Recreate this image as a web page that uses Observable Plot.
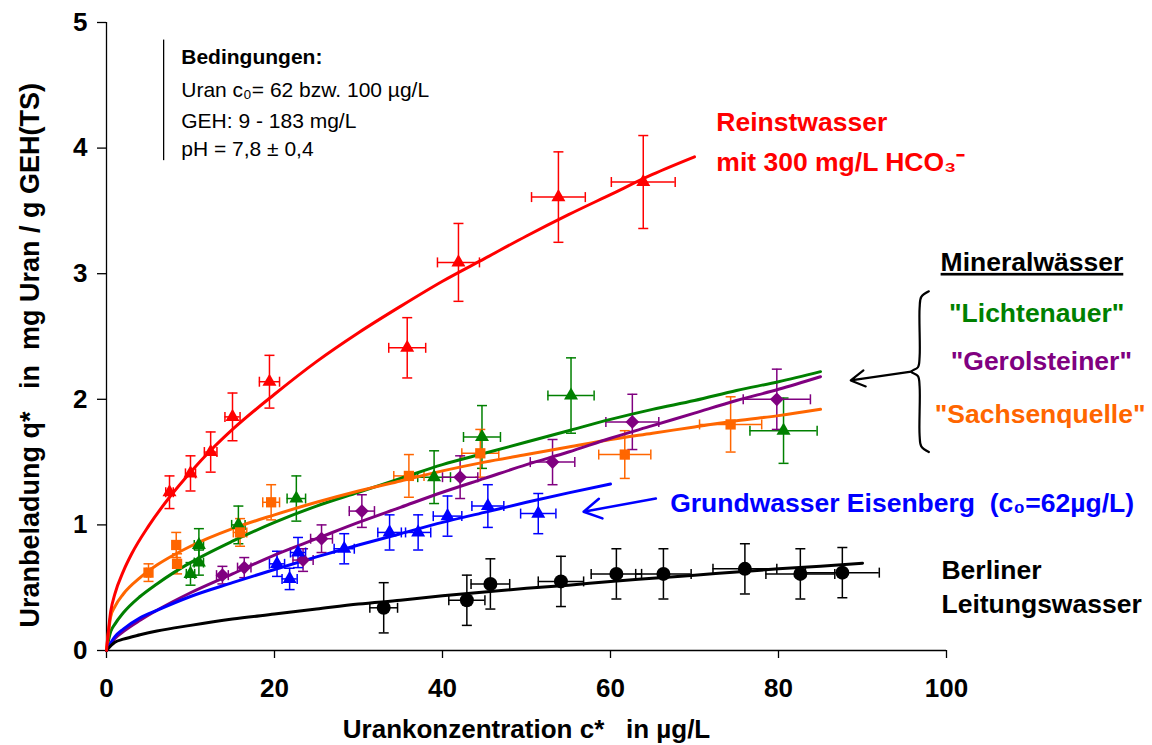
<!DOCTYPE html>
<html><head><meta charset="utf-8">
<script src="https://cdn.jsdelivr.net/npm/d3@7"></script>
<script src="https://cdn.jsdelivr.net/npm/@observablehq/plot@0.6"></script>
<style>body{margin:0;background:#fff;}</style>
</head><body><div id="chart"></div>
<script>
// ---------- axis ticks ----------
const xTicks = [0, 20, 40, 60, 80, 100];
const yTicks = [0, 1, 2, 3, 4, 5];

// ---------- measured points (x, y, x-error, y-error) ----------
const redX = [7.5, 10.0, 12.4, 15.0, 19.4, 35.8, 41.9, 53.8, 63.9];
const redY = [1.26, 1.41, 1.58, 1.86, 2.14, 2.41, 3.09, 3.61, 3.73];
const redXErr = [0.45, 0.6, 0.75, 0.9, 1.2, 2.2, 2.5, 3.2, 3.8];
const redYErr = [0.13, 0.14, 0.16, 0.19, 0.21, 0.24, 0.31, 0.36, 0.37];

const greenX = [10.0, 11.0, 11.0, 15.7, 22.6, 39.0, 44.7, 55.3, 80.6];
const greenY = [0.61, 0.70, 0.84, 1.00, 1.21, 1.38, 1.70, 2.03, 1.75];
const greenXErr = [0.5, 0.55, 0.55, 0.8, 1.1, 1.95, 2.2, 2.75, 4.0];
const greenYErr = [0.09, 0.10, 0.13, 0.15, 0.18, 0.21, 0.25, 0.30, 0.26];

const orangeX = [5.0, 8.3, 8.4, 15.9, 19.6, 36.0, 44.5, 61.7, 74.3];
const orangeY = [0.62, 0.84, 0.69, 0.94, 1.18, 1.39, 1.57, 1.56, 1.80];
const orangeXErr = [0.25, 0.4, 0.4, 0.8, 1.0, 1.8, 2.2, 3.1, 3.7];
const orangeYErr = [0.07, 0.10, 0.08, 0.11, 0.14, 0.17, 0.19, 0.19, 0.22];

const purpleX = [13.8, 16.4, 23.4, 25.6, 30.4, 42.1, 53.1, 62.6, 79.8];
const purpleY = [0.60, 0.66, 0.72, 0.89, 1.11, 1.38, 1.50, 1.82, 2.00];
const purpleXErr = [0.7, 0.8, 1.2, 1.3, 1.5, 2.1, 2.65, 3.15, 4.0];
const purpleYErr = [0.07, 0.08, 0.09, 0.11, 0.13, 0.17, 0.18, 0.22, 0.24];

const blueX = [20.3, 21.8, 22.8, 28.3, 33.7, 37.1, 40.6, 45.4, 51.4];
const blueY = [0.69, 0.57, 0.78, 0.81, 0.94, 0.94, 1.07, 1.15, 1.09];
const blueXErr = [0.9, 0.9, 0.9, 1.2, 1.4, 1.5, 1.7, 1.9, 2.1];
const blueYErr = [0.10, 0.085, 0.12, 0.12, 0.14, 0.14, 0.16, 0.17, 0.16];

const blackX = [33.0, 42.9, 45.7, 54.1, 60.7, 66.3, 76.0, 82.6, 87.6];
const blackY = [0.34, 0.40, 0.53, 0.55, 0.61, 0.61, 0.65, 0.61, 0.62];
const blackXErr = [1.65, 2.15, 2.3, 2.7, 3.0, 3.3, 3.8, 4.1, 4.4];
const blackYErr = [0.2, 0.2, 0.2, 0.2, 0.2, 0.2, 0.2, 0.2, 0.2];

// ---------- fitted isotherm curves ----------
const redFitX = [0, 0.5, 1, 2, 3, 5, 7.5, 10, 12.5, 15, 20, 25, 30, 35, 40, 45, 50, 55, 60, 65, 70];
const redFitY = [0, 0.31, 0.45, 0.63, 0.77, 0.99, 1.22, 1.42, 1.60, 1.76, 2.04, 2.30, 2.53, 2.74, 2.94, 3.12, 3.30, 3.47, 3.63, 3.79, 3.93];

const greenFitX = [0, 0.5, 1, 2, 4, 6, 8, 10, 15, 20, 25, 30, 35, 40, 45, 50, 55, 60, 65, 70, 75, 80, 85];
const greenFitY = [0, 0.15, 0.21, 0.30, 0.43, 0.53, 0.62, 0.70, 0.87, 1.02, 1.15, 1.26, 1.37, 1.48, 1.57, 1.66, 1.75, 1.84, 1.92, 1.99, 2.07, 2.14, 2.22];

const orangeFitX = [0, 0.5, 1, 2, 4, 6, 8, 10, 15, 20, 25, 30, 35, 40, 45, 50, 55, 60, 65, 70, 75, 80, 85];
const orangeFitY = [0, 0.27, 0.35, 0.45, 0.58, 0.68, 0.76, 0.83, 0.97, 1.08, 1.18, 1.27, 1.35, 1.43, 1.50, 1.56, 1.62, 1.68, 1.73, 1.78, 1.83, 1.87, 1.92];

const purpleFitX = [0, 1, 2, 4, 6, 10, 15, 20, 25, 30, 35, 40, 45, 50, 55, 60, 65, 70, 75, 80, 85];
const purpleFitY = [0, 0.095, 0.15, 0.24, 0.32, 0.46, 0.61, 0.76, 0.89, 1.02, 1.14, 1.26, 1.37, 1.48, 1.58, 1.69, 1.79, 1.89, 1.99, 2.08, 2.18];

const blueFitX = [0, 1, 2, 4, 6, 10, 15, 20, 25, 30, 35, 40, 45, 50, 55, 60];
const blueFitY = [0, 0.11, 0.17, 0.26, 0.32, 0.43, 0.54, 0.645, 0.745, 0.84, 0.93, 1.02, 1.10, 1.18, 1.255, 1.325];

const blackFitX = [0, 1, 2, 4, 6, 10, 15, 20, 25, 30, 35, 40, 45, 50, 55, 60, 65, 70, 75, 80, 85, 90];
const blackFitY = [0, 0.065, 0.09, 0.125, 0.155, 0.20, 0.25, 0.29, 0.33, 0.37, 0.40, 0.435, 0.465, 0.495, 0.52, 0.55, 0.575, 0.60, 0.625, 0.65, 0.67, 0.695];

// ---------- labels ----------
const conditionLabels = ["Uran c\u2080= 62 bzw. 100 \u00b5g/L", "GEH: 9 - 183 mg/L", "pH = 7,8 \u00b1 0,4"];

// ---------- build tables ----------
const zipPts = (xs, ys, xe, ye) => xs.map((x, i) => ({x, y: ys[i], xe: xe[i], ye: ye[i]}));
const zipFit = (xs, ys) => xs.map((x, i) => ({x, y: ys[i]}));

const series = [
  {color: "#ff0000", symbol: "triangle", r: 5.2, pts: zipPts(redX, redY, redXErr, redYErr), fit: zipFit(redFitX, redFitY)},
  {color: "#008000", symbol: "triangle", r: 5.2, pts: zipPts(greenX, greenY, greenXErr, greenYErr), fit: zipFit(greenFitX, greenFitY)},
  {color: "#ff6600", symbol: "square", r: 5.8, pts: zipPts(orangeX, orangeY, orangeXErr, orangeYErr), fit: zipFit(orangeFitX, orangeFitY)},
  {color: "#800080", symbol: "diamond2", r: 6.2, pts: zipPts(purpleX, purpleY, purpleXErr, purpleYErr), fit: zipFit(purpleFitX, purpleFitY)},
  {color: "#0000ff", symbol: "triangle", r: 5.2, pts: zipPts(blueX, blueY, blueXErr, blueYErr), fit: zipFit(blueFitX, blueFitY)},
  {color: "#000000", symbol: "circle", r: 7, pts: zipPts(blackX, blackY, blackXErr, blackYErr), fit: zipFit(blackFitX, blackFitY)}
];

const hCap = {draw(ctx, size) { const r = Math.sqrt(size / Math.PI); ctx.moveTo(-r, 0); ctx.lineTo(r, 0); }};
const vCap = {draw(ctx, size) { const r = Math.sqrt(size / Math.PI); ctx.moveTo(0, -r); ctx.lineTo(0, r); }};

const lineOrder = [1, 2, 3, 4, 5, 0];
const marks = [];

// axes
marks.push(Plot.ruleY([0], {x1: 0, x2: 100, stroke: "#000", strokeWidth: 1.3}));
marks.push(Plot.ruleX([0], {y1: 0, y2: 5, stroke: "#000", strokeWidth: 1.3}));
marks.push(Plot.axisX(xTicks, {tickSize: 8, tickPadding: 20, fontSize: 26, fontWeight: "bold", label: null, strokeWidth: 1.3, tickFormat: d3.format("d")}));
marks.push(Plot.axisY(yTicks, {tickSize: 9, tickPadding: 10, fontSize: 26, fontWeight: "bold", label: null, strokeWidth: 1.3, tickFormat: d3.format("d")}));

// error bars and points
for (const s of series) {
  marks.push(Plot.ruleX(s.pts, {x: "x", y1: d => d.y - d.ye, y2: d => d.y + d.ye, stroke: s.color, strokeWidth: 1.5}));
  marks.push(Plot.ruleY(s.pts, {y: "y", x1: d => d.x - d.xe, x2: d => d.x + d.xe, stroke: s.color, strokeWidth: 1.5}));
  marks.push(Plot.dot(s.pts, {x: "x", y: d => d.y - d.ye, symbol: hCap, r: 5, stroke: s.color, fill: "none", strokeWidth: 1.5}));
  marks.push(Plot.dot(s.pts, {x: "x", y: d => d.y + d.ye, symbol: hCap, r: 5, stroke: s.color, fill: "none", strokeWidth: 1.5}));
  marks.push(Plot.dot(s.pts, {x: d => d.x - d.xe, y: "y", symbol: vCap, r: 5, stroke: s.color, fill: "none", strokeWidth: 1.5}));
  marks.push(Plot.dot(s.pts, {x: d => d.x + d.xe, y: "y", symbol: vCap, r: 5, stroke: s.color, fill: "none", strokeWidth: 1.5}));
}
// fitted curves
for (const i of lineOrder) {
  const s = series[i];
  marks.push(Plot.line(s.fit, {x: "x", y: "y", stroke: s.color, strokeWidth: 3, curve: "monotone-x"}));
}
// markers
for (const s of series) {
  marks.push(Plot.dot(s.pts, {x: "x", y: "y", symbol: s.symbol, r: s.r, fill: s.color, stroke: "none"}));
}

// axis titles
marks.push(Plot.text(["Urankonzentration c*   in \u00b5g/L"], {x: 50, y: -0.63, text: d => d, fontSize: 26, fontWeight: "bold", textAnchor: "middle", lineAnchor: "middle"}));
marks.push(Plot.text(["Uranbeladung q*   in  mg Uran / g GEH(TS)"], {x: -9.1, y: 2.35, text: d => d, fontSize: 27, fontWeight: "bold", rotate: -90, textAnchor: "middle", lineAnchor: "middle"}));

// conditions box
marks.push(Plot.ruleX([6.8], {y1: 3.9, y2: 4.86, stroke: "#000", strokeWidth: 1.3}));
marks.push(Plot.text(["Bedingungen:"], {x: 8.9, y: 4.72, text: d => d, fontSize: 21, fontWeight: "bold", textAnchor: "start", lineAnchor: "middle"}));
marks.push(Plot.text(conditionLabels, {x: 8.9, y: (d, i) => [4.46, 4.21, 3.99][i], text: d => d, fontSize: 21, textAnchor: "start", lineAnchor: "middle"}));

// series annotations
const ann = (t, x, y, color) => Plot.text([t], {x, y, text: d => d, fill: color, fontSize: 26.5, fontWeight: "bold", textAnchor: "start", lineAnchor: "middle"});
marks.push(ann("Reinstwasser", 72.6, 4.20, "#ff0000"));
marks.push(ann("mit 300 mg/L HCO\u2083\u207b", 72.6, 3.885, "#ff0000"));
marks.push(ann("Mineralw\u00e4sser", 99.3, 3.09, "#000000"));
marks.push(ann("\"Lichtenauer\"", 100.3, 2.68, "#008000"));
marks.push(ann("\"Gerolsteiner\"", 100.5, 2.30, "#800080"));
marks.push(ann("\"Sachsenquelle\"", 98.6, 1.88, "#ff6600"));
marks.push(ann("Grundwasser Eisenberg  (c\u2080=62\u00b5g/L)", 67.1, 1.17, "#0000ff"));
marks.push(ann("Berliner", 99.4, 0.637, "#000000"));
marks.push(ann("Leitungswasser", 99.4, 0.37, "#000000"));

// brace and arrows
const brace = [
  {x: 97.9, y: 2.86}, {x: 97.0, y: 2.815}, {x: 96.8, y: 2.73}, {x: 96.8, y: 2.34},
  {x: 96.6, y: 2.255}, {x: 95.8, y: 2.22}, {x: 96.6, y: 2.185}, {x: 96.8, y: 2.10},
  {x: 96.8, y: 1.71}, {x: 97.0, y: 1.625}, {x: 97.9, y: 1.58}
];
marks.push(Plot.line(brace, {x: "x", y: "y", stroke: "#000", strokeWidth: 2.2, curve: "catmull-rom"}));
marks.push(Plot.arrow([0], {x1: 95.8, y1: 2.22, x2: 88.6, y2: 2.15, stroke: "#000", strokeWidth: 2.2, headLength: 11}));
marks.push(Plot.arrow([0], {x1: 65.4, y1: 1.21, x2: 56.8, y2: 1.105, stroke: "#0000ff", strokeWidth: 2.5, headLength: 12}));

const chart = Plot.plot({
  width: 1152, height: 745,
  marginLeft: 106, marginRight: 206, marginTop: 22, marginBottom: 95,
  x: {domain: [0, 100]},
  y: {domain: [0, 5]},
  style: {fontFamily: "'Liberation Sans', Arial, sans-serif", background: "#fff", color: "#000", overflow: "visible"},
  marks
});
d3.select(chart).selectAll("text").filter(function() { return this.textContent === "Mineralw\u00e4sser"; })
  .attr("text-decoration", "underline");
document.getElementById("chart").appendChild(chart);
</script>
</body></html>
